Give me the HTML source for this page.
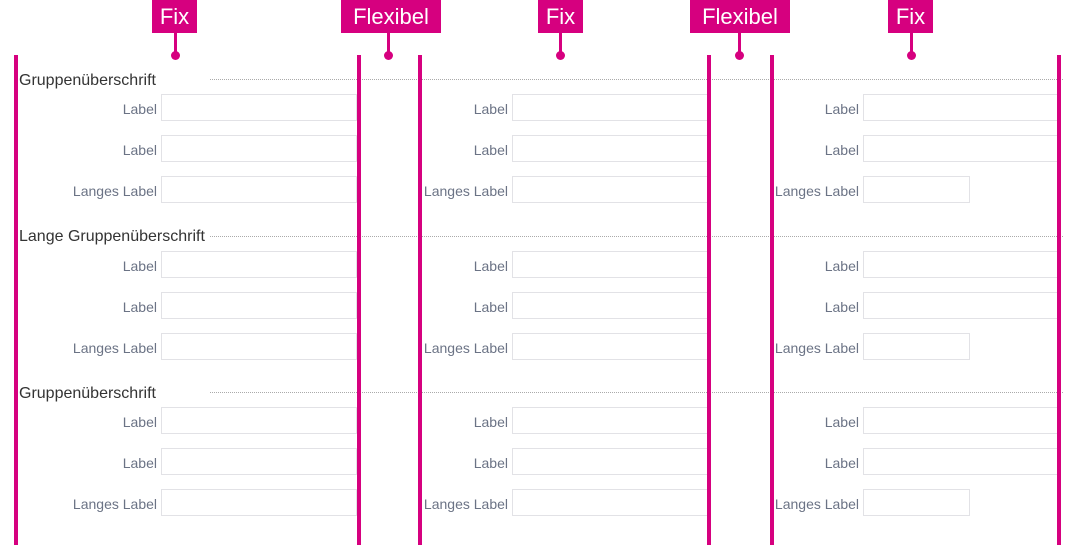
<!DOCTYPE html>
<html><head><meta charset="utf-8"><style>
body{margin:0;width:1080px;height:555px;background:#fff;position:relative;overflow:hidden;font-family:"Liberation Sans",sans-serif}
.bar{position:absolute;top:55px;height:490px;width:4px;background:#d6007f}
.tag{position:absolute;top:0;height:33px;background:#d6007f;color:#fff;font-size:22px;line-height:33px;text-align:center}
.stem{position:absolute;top:33px;width:3px;height:20px;background:#d6007f}
.dot{position:absolute;top:51px;width:9px;height:9px;border-radius:50%;background:#d6007f}
.h{position:absolute;left:19px;font-size:16px;color:#333;line-height:18px}
.dl{position:absolute;left:210px;width:853px;border-top:1px dotted #aaa;height:0}
.l{position:absolute;font-size:14px;color:#6b7385;text-align:right;width:150px;line-height:16px}
.i{position:absolute;height:25px;border:1px solid #e2e2e6;background:#fff}
</style></head><body>
<div class="tag" style="left:152px;width:45px">Fix</div><div class="stem" style="left:174px"></div><div class="dot" style="left:171px"></div>
<div class="tag" style="left:341px;width:100px">Flexibel</div><div class="stem" style="left:387px"></div><div class="dot" style="left:384px"></div>
<div class="tag" style="left:538px;width:45px">Fix</div><div class="stem" style="left:559px"></div><div class="dot" style="left:556px"></div>
<div class="tag" style="left:690px;width:100px">Flexibel</div><div class="stem" style="left:738px"></div><div class="dot" style="left:735px"></div>
<div class="tag" style="left:888px;width:45px">Fix</div><div class="stem" style="left:910px"></div><div class="dot" style="left:907px"></div>

<div class="h" style="top:72px">Gruppenüberschrift</div><div class="dl" style="top:79px"></div>
<div class="h" style="top:228px">Lange Gruppenüberschrift</div><div class="dl" style="top:236px"></div>
<div class="h" style="top:385px">Gruppenüberschrift</div><div class="dl" style="top:392px"></div>

<div class="l" style="left:7px;top:101px">Label</div><div class="i" style="left:161px;top:94px;width:194px"></div>
<div class="l" style="left:7px;top:142px">Label</div><div class="i" style="left:161px;top:135px;width:194px"></div>
<div class="l" style="left:7px;top:183px">Langes Label</div><div class="i" style="left:161px;top:176px;width:194px"></div>
<div class="l" style="left:7px;top:258px">Label</div><div class="i" style="left:161px;top:251px;width:194px"></div>
<div class="l" style="left:7px;top:299px">Label</div><div class="i" style="left:161px;top:292px;width:194px"></div>
<div class="l" style="left:7px;top:340px">Langes Label</div><div class="i" style="left:161px;top:333px;width:194px"></div>
<div class="l" style="left:7px;top:414px">Label</div><div class="i" style="left:161px;top:407px;width:194px"></div>
<div class="l" style="left:7px;top:455px">Label</div><div class="i" style="left:161px;top:448px;width:194px"></div>
<div class="l" style="left:7px;top:496px">Langes Label</div><div class="i" style="left:161px;top:489px;width:194px"></div>

<div class="l" style="left:358px;top:101px">Label</div><div class="i" style="left:512px;top:94px;width:194px"></div>
<div class="l" style="left:358px;top:142px">Label</div><div class="i" style="left:512px;top:135px;width:194px"></div>
<div class="l" style="left:358px;top:183px">Langes Label</div><div class="i" style="left:512px;top:176px;width:194px"></div>
<div class="l" style="left:358px;top:258px">Label</div><div class="i" style="left:512px;top:251px;width:194px"></div>
<div class="l" style="left:358px;top:299px">Label</div><div class="i" style="left:512px;top:292px;width:194px"></div>
<div class="l" style="left:358px;top:340px">Langes Label</div><div class="i" style="left:512px;top:333px;width:194px"></div>
<div class="l" style="left:358px;top:414px">Label</div><div class="i" style="left:512px;top:407px;width:194px"></div>
<div class="l" style="left:358px;top:455px">Label</div><div class="i" style="left:512px;top:448px;width:194px"></div>
<div class="l" style="left:358px;top:496px">Langes Label</div><div class="i" style="left:512px;top:489px;width:194px"></div>

<div class="l" style="left:709px;top:101px">Label</div><div class="i" style="left:863px;top:94px;width:194px"></div>
<div class="l" style="left:709px;top:142px">Label</div><div class="i" style="left:863px;top:135px;width:194px"></div>
<div class="l" style="left:709px;top:183px">Langes Label</div><div class="i" style="left:863px;top:176px;width:105px"></div>
<div class="l" style="left:709px;top:258px">Label</div><div class="i" style="left:863px;top:251px;width:194px"></div>
<div class="l" style="left:709px;top:299px">Label</div><div class="i" style="left:863px;top:292px;width:194px"></div>
<div class="l" style="left:709px;top:340px">Langes Label</div><div class="i" style="left:863px;top:333px;width:105px"></div>
<div class="l" style="left:709px;top:414px">Label</div><div class="i" style="left:863px;top:407px;width:194px"></div>
<div class="l" style="left:709px;top:455px">Label</div><div class="i" style="left:863px;top:448px;width:194px"></div>
<div class="l" style="left:709px;top:496px">Langes Label</div><div class="i" style="left:863px;top:489px;width:105px"></div>

<div class="bar" style="left:14px"></div>
<div class="bar" style="left:357px"></div>
<div class="bar" style="left:418px"></div>
<div class="bar" style="left:707px"></div>
<div class="bar" style="left:770px"></div>
<div class="bar" style="left:1057px"></div>
</body></html>
